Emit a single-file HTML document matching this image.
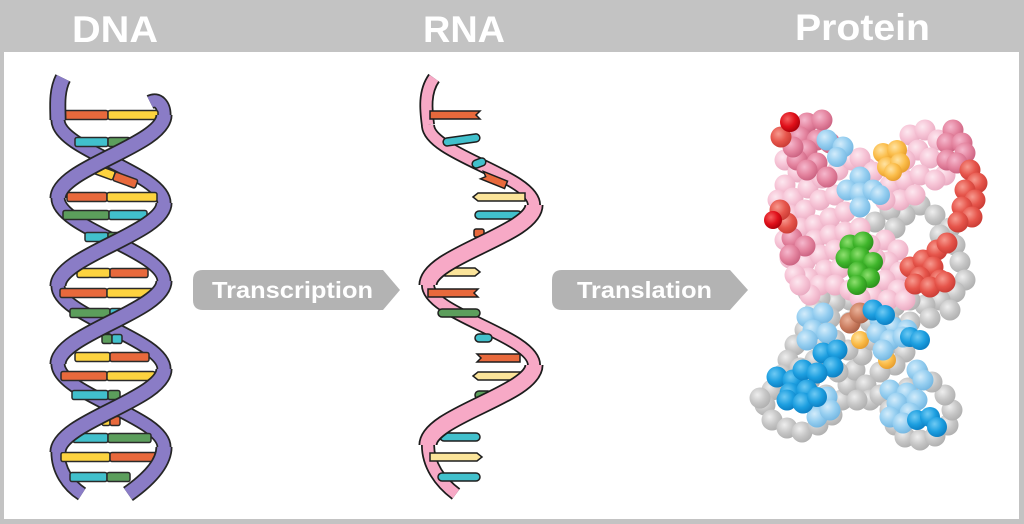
<!DOCTYPE html>
<html><head><meta charset="utf-8"><style>
html,body{margin:0;padding:0;background:#c3c3c3;}
svg{display:block;}
.ol{fill:none;stroke:#262626;stroke-width:17;}
.pu{fill:none;stroke:#8a7cc6;stroke-width:13.5;}
.olb{fill:none;stroke:#262626;stroke-width:15;}
.pub{fill:none;stroke:#8a7cc6;stroke-width:11.5;}
.rof{fill:none;stroke:#1c1c1c;stroke-width:19;}
.rpf{fill:none;stroke:#f7a9c6;stroke-width:15.5;}
.rob{fill:none;stroke:#1c1c1c;stroke-width:14;}
.rpb{fill:none;stroke:#f7a9c6;stroke-width:10.5;}
.t{font-family:"Liberation Sans",sans-serif;font-weight:bold;fill:#fff;}
</style></head><body>
<svg width="1024" height="524" viewBox="0 0 1024 524" xmlns="http://www.w3.org/2000/svg">
<defs>
<radialGradient id="gG" cx="0.38" cy="0.35" r="0.7"><stop offset="0" stop-color="#eeeeee"/><stop offset="0.55" stop-color="#c6c6c6"/><stop offset="1" stop-color="#aeaeae"/></radialGradient>
<radialGradient id="gPL" cx="0.38" cy="0.35" r="0.7"><stop offset="0" stop-color="#fde8f0"/><stop offset="0.55" stop-color="#f6c3d5"/><stop offset="1" stop-color="#e8a9c0"/></radialGradient>
<radialGradient id="gPD" cx="0.38" cy="0.35" r="0.7"><stop offset="0" stop-color="#f5b8cd"/><stop offset="0.55" stop-color="#e4849f"/><stop offset="1" stop-color="#c9607f"/></radialGradient>
<radialGradient id="gR" cx="0.38" cy="0.35" r="0.7"><stop offset="0" stop-color="#f79a8f"/><stop offset="0.55" stop-color="#e6554b"/><stop offset="1" stop-color="#c83a33"/></radialGradient>
<radialGradient id="gRD" cx="0.38" cy="0.35" r="0.7"><stop offset="0" stop-color="#f56060"/><stop offset="0.55" stop-color="#e0101a"/><stop offset="1" stop-color="#a8000a"/></radialGradient>
<radialGradient id="gBL" cx="0.38" cy="0.35" r="0.7"><stop offset="0" stop-color="#d3ecfb"/><stop offset="0.55" stop-color="#95cef0"/><stop offset="1" stop-color="#72b5e0"/></radialGradient>
<radialGradient id="gB" cx="0.38" cy="0.35" r="0.7"><stop offset="0" stop-color="#6fcaf4"/><stop offset="0.55" stop-color="#1d9fe0"/><stop offset="1" stop-color="#0a7cc0"/></radialGradient>
<radialGradient id="gGr" cx="0.38" cy="0.35" r="0.7"><stop offset="0" stop-color="#8fe070"/><stop offset="0.55" stop-color="#3fb52b"/><stop offset="1" stop-color="#2a8e1a"/></radialGradient>
<radialGradient id="gO" cx="0.38" cy="0.35" r="0.7"><stop offset="0" stop-color="#ffe3a3"/><stop offset="0.55" stop-color="#fbbd4a"/><stop offset="1" stop-color="#e59a2a"/></radialGradient>
<radialGradient id="gBr" cx="0.38" cy="0.35" r="0.7"><stop offset="0" stop-color="#eab39b"/><stop offset="0.55" stop-color="#cc7f62"/><stop offset="1" stop-color="#a85e44"/></radialGradient>

<path id="a0" d="M150 102 C158 98 164 105 164 115"/>
<path id="a1" d="M164 115 C164 145 58 168 58 198"/>
<path id="a2" d="M58 198 C58 228 164 251 164 281"/>
<path id="a3" d="M164 281 C164 311 58 334 58 364"/>
<path id="a4" d="M58 364 C58 394 164 417 164 447"/>
<path id="a5" d="M164 447 C164 465 145 482 128 494"/>
<path id="b0" d="M63 78 C56 92 58 108 58 120"/>
<path id="b1" d="M58 120 C58 150 164 173 164 203"/>
<path id="b2" d="M164 203 C164 233 58 256 58 286"/>
<path id="b3" d="M58 286 C58 316 164 339 164 369"/>
<path id="b4" d="M164 369 C164 399 58 422 58 452"/>
<path id="b5" d="M58 452 C58 470 68 485 82 494"/>

<path id="r0" d="M434 78 C424 92 426 110 428 125"/>
<path id="r1" d="M428 125 C428 154 534 176 534 205"/>
<path id="r2" d="M534 205 C534 234 428 256 428 285"/>
<path id="r3" d="M428 285 C428 314 534 336 534 365"/>
<path id="r4" d="M534 365 C534 394 428 416 428 445"/>
<path id="r5" d="M428 445 C428 465 440 482 456 494"/>
</defs>

<rect width="1024" height="524" fill="#c3c3c3"/>
<rect x="4" y="52" width="1015" height="467" fill="#ffffff"/>

<text class="t" x="72" y="42" font-size="37" textLength="86" lengthAdjust="spacingAndGlyphs">DNA</text>
<text class="t" x="423" y="42" font-size="37" textLength="82" lengthAdjust="spacingAndGlyphs">RNA</text>
<text class="t" x="795" y="40" font-size="37" textLength="135" lengthAdjust="spacingAndGlyphs">Protein</text>

<!-- DNA back strands -->
<use href="#a0" class="olb"/><use href="#a0" class="pub"/>
<use href="#b1" class="olb"/><use href="#b1" class="pub"/>
<use href="#a2" class="olb"/><use href="#a2" class="pub"/>
<use href="#b3" class="olb"/><use href="#b3" class="pub"/>
<use href="#a4" class="olb"/><use href="#a4" class="pub"/>
<use href="#b5" class="olb"/><use href="#b5" class="pub"/>

<!-- DNA base pairs -->
<g stroke="#2a2a2a" stroke-width="1.5">
<rect x="62" y="110.5" width="46" height="9" rx="2" fill="#e8693c"/><rect x="108" y="110.5" width="50" height="9" rx="2" fill="#fdd33f"/>
<rect x="75" y="137.5" width="33" height="9" rx="2" fill="#41c0cc"/><rect x="108" y="137.5" width="22" height="9" rx="2" fill="#5c9e5c"/>
<g transform="rotate(20 114 176)"><rect x="92" y="171.5" width="22" height="9" rx="2" fill="#fdd33f"/><rect x="114" y="171.5" width="24" height="9" rx="2" fill="#e8693c"/></g>
<rect x="67" y="192.5" width="40" height="9" rx="2" fill="#e8693c"/><rect x="107" y="192.5" width="50" height="9" rx="2" fill="#fdd33f"/>
<rect x="63" y="210.5" width="46" height="9" rx="2" fill="#5c9e5c"/><rect x="109" y="210.5" width="38" height="9" rx="2" fill="#41c0cc"/>
<rect x="85" y="232.5" width="23" height="9" rx="2" fill="#41c0cc"/><rect x="108" y="232.5" width="12" height="9" rx="2" fill="#5c9e5c"/>
<rect x="77" y="268.5" width="33" height="9" rx="2" fill="#fdd33f"/><rect x="110" y="268.5" width="38" height="9" rx="2" fill="#e8693c"/>
<rect x="60" y="288.5" width="47" height="9" rx="2" fill="#e8693c"/><rect x="107" y="288.5" width="48" height="9" rx="2" fill="#fdd33f"/>
<rect x="70" y="308.5" width="40" height="9" rx="2" fill="#5c9e5c"/><rect x="110" y="308.5" width="12" height="9" rx="2" fill="#41c0cc"/>
<rect x="102" y="334.5" width="10" height="9" rx="2" fill="#5c9e5c"/><rect x="112" y="334.5" width="10" height="9" rx="2" fill="#41c0cc"/>
<rect x="75" y="352.5" width="35" height="9" rx="2" fill="#fdd33f"/><rect x="110" y="352.5" width="39" height="9" rx="2" fill="#e8693c"/>
<rect x="61" y="371.5" width="46" height="9" rx="2" fill="#e8693c"/><rect x="107" y="371.5" width="48" height="9" rx="2" fill="#fdd33f"/>
<rect x="72" y="390.5" width="36" height="9" rx="2" fill="#41c0cc"/><rect x="108" y="390.5" width="12" height="9" rx="2" fill="#5c9e5c"/>
<rect x="102" y="416.5" width="8" height="9" rx="2" fill="#fdd33f"/><rect x="110" y="416.5" width="10" height="9" rx="2" fill="#e8693c"/>
<rect x="73" y="433.5" width="35" height="9" rx="2" fill="#41c0cc"/><rect x="108" y="433.5" width="43" height="9" rx="2" fill="#5c9e5c"/>
<rect x="61" y="452.5" width="49" height="9" rx="2" fill="#fdd33f"/><rect x="110" y="452.5" width="48" height="9" rx="2" fill="#e8693c"/>
<rect x="70" y="472.5" width="37" height="9" rx="2" fill="#41c0cc"/><rect x="107" y="472.5" width="23" height="9" rx="2" fill="#5c9e5c"/>
</g>

<!-- DNA front strands -->
<use href="#b0" class="ol"/><use href="#b0" class="pu"/>
<use href="#a1" class="ol"/><use href="#a1" class="pu"/>
<use href="#b2" class="ol"/><use href="#b2" class="pu"/>
<use href="#a3" class="ol"/><use href="#a3" class="pu"/>
<use href="#b4" class="ol"/><use href="#b4" class="pu"/>
<use href="#a5" class="ol"/><use href="#a5" class="pu"/>

<!-- RNA back -->
<use href="#r0" class="rob"/><use href="#r0" class="rpb"/>
<use href="#r1" class="rob"/><use href="#r1" class="rpb"/>
<use href="#r3" class="rob"/><use href="#r3" class="rpb"/>
<use href="#r5" class="rob"/><use href="#r5" class="rpb"/>

<!-- RNA bases -->
<g stroke="#1e1e1e" stroke-width="1.5">
<path d="M430 111 H480 L476 115 L480 119 H430 Z" fill="#e8693c"/>
<rect x="443" y="136" width="37" height="8" rx="4" fill="#41c0cc" transform="rotate(-8 461 140)"/>
<rect x="472" y="159" width="14" height="8" rx="4" fill="#41c0cc" transform="rotate(-20 479 163)"/>
<path d="M481 176 H507 V184 H481 L485 180 Z" fill="#e8693c" transform="rotate(22 494 180)"/>
<path d="M473 197 L478 193 H525 V201 H478 Z" fill="#fbe49a"/>
<rect x="475" y="211" width="47" height="8" rx="4" fill="#41c0cc"/>
<rect x="474" y="229" width="10" height="8" rx="2" fill="#e8693c"/>
<path d="M445 268 H475 L480 272 L475 276 H445 Z" fill="#fbe49a"/>
<path d="M428 289 H478 L474 293 L478 297 H428 Z" fill="#e8693c"/>
<rect x="438" y="309" width="42" height="8" rx="4" fill="#5c9e5c"/>
<rect x="475" y="334" width="17" height="8" rx="4" fill="#41c0cc"/>
<path d="M477 354 H520 V362 H477 L481 358 Z" fill="#e8693c"/>
<path d="M473 376 L478 372 H526 V380 H478 Z" fill="#fbe49a"/>
<rect x="475" y="391" width="17" height="8" rx="4" fill="#5c9e5c"/>
<rect x="440" y="433" width="40" height="8" rx="4" fill="#41c0cc"/>
<path d="M430 453 H477 L482 457 L477 461 H430 Z" fill="#fbe49a"/>
<rect x="438" y="473" width="42" height="8" rx="4" fill="#41c0cc"/>
</g>

<!-- RNA front -->
<use href="#r2" class="rof"/><use href="#r2" class="rpf"/>
<use href="#r4" class="rof"/><use href="#r4" class="rpf"/>

<!-- Arrows -->
<path d="M203 270 H383 L400 290 L383 310 H203 Q193 310 193 300 V280 Q193 270 203 270 Z" fill="#b3b3b3"/>
<text class="t" x="212" y="298" font-size="23" textLength="161" lengthAdjust="spacingAndGlyphs">Transcription</text>
<path d="M562 270 H730 L748 290 L730 310 H562 Q552 310 552 300 V280 Q552 270 562 270 Z" fill="#b3b3b3"/>
<text class="t" x="577" y="298" font-size="23" textLength="135" lengthAdjust="spacingAndGlyphs">Translation</text>

<!-- Protein -->
<g fill="url(#gG)">
<circle cx="905" cy="195" r="10.5"/><circle cx="920" cy="205" r="10.5"/><circle cx="935" cy="215" r="10.5"/><circle cx="950" cy="228" r="10.5"/><circle cx="905" cy="215" r="10.5"/><circle cx="890" cy="210" r="10.5"/><circle cx="875" cy="222" r="10.5"/><circle cx="895" cy="228" r="10.5"/><circle cx="940" cy="235" r="10.5"/><circle cx="955" cy="245" r="10.5"/><circle cx="960" cy="262" r="10.5"/><circle cx="965" cy="280" r="10.5"/><circle cx="955" cy="292" r="10.5"/><circle cx="940" cy="300" r="10.5"/><circle cx="925" cy="305" r="10.5"/><circle cx="910" cy="300" r="10.5"/><circle cx="895" cy="306" r="10.5"/><circle cx="880" cy="300" r="10.5"/><circle cx="865" cy="305" r="10.5"/><circle cx="850" cy="300" r="10.5"/><circle cx="835" cy="302" r="10.5"/><circle cx="820" cy="298" r="10.5"/><circle cx="808" cy="292" r="10.5"/><circle cx="815" cy="310" r="10.5"/><circle cx="830" cy="318" r="10.5"/><circle cx="850" cy="322" r="10.5"/><circle cx="870" cy="322" r="10.5"/><circle cx="890" cy="322" r="10.5"/><circle cx="910" cy="322" r="10.5"/><circle cx="930" cy="318" r="10.5"/><circle cx="950" cy="310" r="10.5"/>
<circle cx="805" cy="330" r="10.5"/><circle cx="795" cy="345" r="10.5"/><circle cx="788" cy="360" r="10.5"/><circle cx="782" cy="375" r="10.5"/><circle cx="772" cy="390" r="10.5"/><circle cx="765" cy="405" r="10.5"/><circle cx="772" cy="420" r="10.5"/><circle cx="787" cy="428" r="10.5"/><circle cx="802" cy="432" r="10.5"/><circle cx="818" cy="425" r="10.5"/><circle cx="832" cy="415" r="10.5"/><circle cx="842" cy="400" r="10.5"/><circle cx="848" cy="385" r="10.5"/><circle cx="855" cy="370" r="10.5"/><circle cx="862" cy="355" r="10.5"/><circle cx="848" cy="350" r="10.5"/><circle cx="835" cy="340" r="10.5"/><circle cx="820" cy="342" r="10.5"/><circle cx="872" cy="340" r="10.5"/><circle cx="888" cy="345" r="10.5"/><circle cx="905" cy="352" r="10.5"/><circle cx="895" cy="365" r="10.5"/><circle cx="880" cy="372" r="10.5"/><circle cx="866" cy="385" r="10.5"/><circle cx="870" cy="400" r="10.5"/><circle cx="857" cy="400" r="10.5"/><circle cx="880" cy="395" r="10.5"/><circle cx="890" cy="410" r="10.5"/><circle cx="895" cy="425" r="10.5"/><circle cx="905" cy="437" r="10.5"/><circle cx="920" cy="440" r="10.5"/><circle cx="935" cy="436" r="10.5"/><circle cx="948" cy="425" r="10.5"/><circle cx="952" cy="410" r="10.5"/><circle cx="945" cy="395" r="10.5"/><circle cx="932" cy="382" r="10.5"/><circle cx="918" cy="372" r="10.5"/><circle cx="908" cy="388" r="10.5"/><circle cx="810" cy="380" r="10.5"/><circle cx="826" cy="395" r="10.5"/><circle cx="800" cy="368" r="10.5"/><circle cx="815" cy="360" r="10.5"/><circle cx="838" cy="372" r="10.5"/><circle cx="760" cy="398" r="10.5"/>
</g>
<g fill="url(#gPL)">
<circle cx="785" cy="160" r="10.5"/><circle cx="798" cy="172" r="10.5"/><circle cx="785" cy="185" r="10.5"/><circle cx="778" cy="200" r="10.5"/><circle cx="793" cy="198" r="10.5"/><circle cx="808" cy="188" r="10.5"/><circle cx="822" cy="178" r="10.5"/><circle cx="838" cy="170" r="10.5"/><circle cx="852" cy="160" r="10.5"/><circle cx="866" cy="168" r="10.5"/><circle cx="860" cy="158" r="10.5"/><circle cx="873" cy="172" r="10.5"/>
<circle cx="910" cy="135" r="10.5"/><circle cx="925" cy="130" r="10.5"/><circle cx="938" cy="140" r="10.5"/><circle cx="918" cy="150" r="10.5"/><circle cx="905" cy="160" r="10.5"/><circle cx="930" cy="158" r="10.5"/><circle cx="945" cy="175" r="10.5"/>
<circle cx="890" cy="185" r="10.5"/><circle cx="905" cy="180" r="10.5"/><circle cx="920" cy="175" r="10.5"/><circle cx="935" cy="180" r="10.5"/><circle cx="900" cy="200" r="10.5"/><circle cx="885" cy="200" r="10.5"/><circle cx="915" cy="195" r="10.5"/>
<circle cx="790" cy="215" r="10.5"/><circle cx="805" cy="210" r="10.5"/><circle cx="820" cy="200" r="10.5"/><circle cx="835" cy="195" r="10.5"/><circle cx="800" cy="228" r="10.5"/><circle cx="815" cy="225" r="10.5"/><circle cx="830" cy="218" r="10.5"/><circle cx="845" cy="212" r="10.5"/><circle cx="785" cy="240" r="10.5"/><circle cx="800" cy="245" r="10.5"/><circle cx="815" cy="240" r="10.5"/><circle cx="830" cy="235" r="10.5"/><circle cx="845" cy="232" r="10.5"/><circle cx="860" cy="228" r="10.5"/><circle cx="790" cy="258" r="10.5"/><circle cx="805" cy="262" r="10.5"/><circle cx="820" cy="255" r="10.5"/><circle cx="835" cy="250" r="10.5"/><circle cx="825" cy="270" r="10.5"/><circle cx="840" cy="268" r="10.5"/><circle cx="808" cy="278" r="10.5"/><circle cx="795" cy="275" r="10.5"/><circle cx="820" cy="285" r="10.5"/><circle cx="835" cy="285" r="10.5"/><circle cx="850" cy="290" r="10.5"/><circle cx="810" cy="295" r="10.5"/><circle cx="800" cy="285" r="10.5"/>
<circle cx="885" cy="240" r="10.5"/><circle cx="898" cy="250" r="10.5"/><circle cx="888" cy="262" r="10.5"/><circle cx="900" cy="272" r="10.5"/><circle cx="885" cy="280" r="10.5"/><circle cx="898" cy="290" r="10.5"/><circle cx="872" cy="295" r="10.5"/><circle cx="860" cy="298" r="10.5"/><circle cx="888" cy="300" r="10.5"/><circle cx="905" cy="300" r="10.5"/><circle cx="875" cy="258" r="10.5"/><circle cx="870" cy="245" r="10.5"/>
</g>
<g fill="url(#gPD)">
<circle cx="807" cy="123" r="10.5"/><circle cx="822" cy="120" r="10.5"/><circle cx="800" cy="137" r="10.5"/><circle cx="817" cy="140" r="10.5"/><circle cx="830" cy="143" r="10.5"/><circle cx="807" cy="150" r="10.5"/><circle cx="797" cy="160" r="10.5"/><circle cx="817" cy="163" r="10.5"/><circle cx="827" cy="177" r="10.5"/><circle cx="807" cy="170" r="10.5"/><circle cx="793" cy="147" r="10.5"/>
<circle cx="953" cy="130" r="10.5"/><circle cx="947" cy="143" r="10.5"/><circle cx="962" cy="143" r="10.5"/><circle cx="965" cy="153" r="10.5"/><circle cx="947" cy="160" r="10.5"/><circle cx="957" cy="163" r="10.5"/>
<circle cx="792" cy="238" r="10.5"/><circle cx="805" cy="246" r="10.5"/><circle cx="790" cy="255" r="10.5"/>
</g>
<g fill="url(#gR)">
<circle cx="781" cy="137" r="10.5"/>
<circle cx="970" cy="170" r="10.5"/><circle cx="977" cy="183" r="10.5"/><circle cx="965" cy="190" r="10.5"/><circle cx="975" cy="200" r="10.5"/><circle cx="962" cy="207" r="10.5"/><circle cx="972" cy="217" r="10.5"/><circle cx="958" cy="222" r="10.5"/>
<circle cx="787" cy="223" r="10.5"/><circle cx="780" cy="210" r="10.5"/>
<circle cx="910" cy="267" r="10.5"/><circle cx="923" cy="260" r="10.5"/><circle cx="937" cy="250" r="10.5"/><circle cx="947" cy="243" r="10.5"/><circle cx="933" cy="267" r="10.5"/><circle cx="920" cy="277" r="10.5"/><circle cx="940" cy="280" r="10.5"/><circle cx="915" cy="284" r="10.5"/><circle cx="930" cy="287" r="10.5"/><circle cx="945" cy="282" r="10.5"/>
</g>
<g fill="url(#gRD)">
<circle cx="790" cy="122" r="10"/><circle cx="773" cy="220" r="9"/>
</g>
<g fill="url(#gO)">
<circle cx="883" cy="153" r="10"/><circle cx="897" cy="150" r="10"/><circle cx="887" cy="167" r="10"/><circle cx="900" cy="163" r="10"/><circle cx="893" cy="172" r="9"/>
<circle cx="860" cy="340" r="9"/><circle cx="887" cy="360" r="9"/>
</g>
<g fill="url(#gBr)">
<circle cx="850" cy="323" r="10.5"/><circle cx="860" cy="313" r="10.5"/>
</g>
<g fill="url(#gBL)">
<circle cx="827" cy="140" r="10.5"/><circle cx="843" cy="147" r="10.5"/><circle cx="837" cy="157" r="10"/>
<circle cx="860" cy="177" r="10.5"/><circle cx="847" cy="190" r="10.5"/><circle cx="860" cy="193" r="10.5"/><circle cx="873" cy="190" r="10.5"/><circle cx="860" cy="207" r="10.5"/><circle cx="880" cy="195" r="10"/>
<circle cx="807" cy="317" r="10.5"/><circle cx="823" cy="313" r="10.5"/><circle cx="813" cy="330" r="10.5"/><circle cx="827" cy="333" r="10.5"/><circle cx="807" cy="340" r="10.5"/>
<circle cx="880" cy="320" r="10.5"/><circle cx="893" cy="327" r="10.5"/><circle cx="907" cy="330" r="10.5"/><circle cx="877" cy="333" r="10.5"/><circle cx="890" cy="340" r="10.5"/><circle cx="903" cy="337" r="10.5"/><circle cx="883" cy="350" r="10.5"/>
<circle cx="810" cy="403" r="10.5"/><circle cx="827" cy="397" r="10.5"/><circle cx="817" cy="417" r="10.5"/><circle cx="830" cy="410" r="10.5"/>
<circle cx="917" cy="370" r="10.5"/><circle cx="923" cy="380" r="10.5"/><circle cx="890" cy="390" r="10.5"/><circle cx="907" cy="393" r="10.5"/><circle cx="897" cy="403" r="10.5"/><circle cx="917" cy="400" r="10.5"/><circle cx="910" cy="413" r="10.5"/><circle cx="890" cy="417" r="10.5"/><circle cx="903" cy="423" r="10.5"/>
</g>
<g fill="url(#gB)">
<circle cx="873" cy="310" r="10.5"/><circle cx="885" cy="315" r="10"/>
<circle cx="910" cy="337" r="10"/><circle cx="920" cy="340" r="10"/>
<circle cx="823" cy="353" r="10.5"/><circle cx="837" cy="350" r="10.5"/><circle cx="833" cy="367" r="10.5"/>
<circle cx="777" cy="377" r="10.5"/><circle cx="793" cy="380" r="10.5"/><circle cx="803" cy="370" r="10.5"/><circle cx="817" cy="373" r="10.5"/><circle cx="790" cy="393" r="10.5"/><circle cx="807" cy="390" r="10.5"/><circle cx="787" cy="400" r="10.5"/><circle cx="803" cy="403" r="10.5"/><circle cx="817" cy="397" r="10"/>
<circle cx="917" cy="420" r="10"/><circle cx="930" cy="417" r="10"/><circle cx="937" cy="427" r="10"/>
</g>
<g fill="url(#gGr)">
<circle cx="850" cy="245" r="10.5"/><circle cx="863" cy="242" r="10.5"/><circle cx="846" cy="258" r="10.5"/><circle cx="860" cy="257" r="10.5"/><circle cx="873" cy="262" r="10"/><circle cx="858" cy="272" r="10.5"/><circle cx="870" cy="278" r="10"/><circle cx="857" cy="285" r="10"/>
</g>
</svg>
</body></html>
